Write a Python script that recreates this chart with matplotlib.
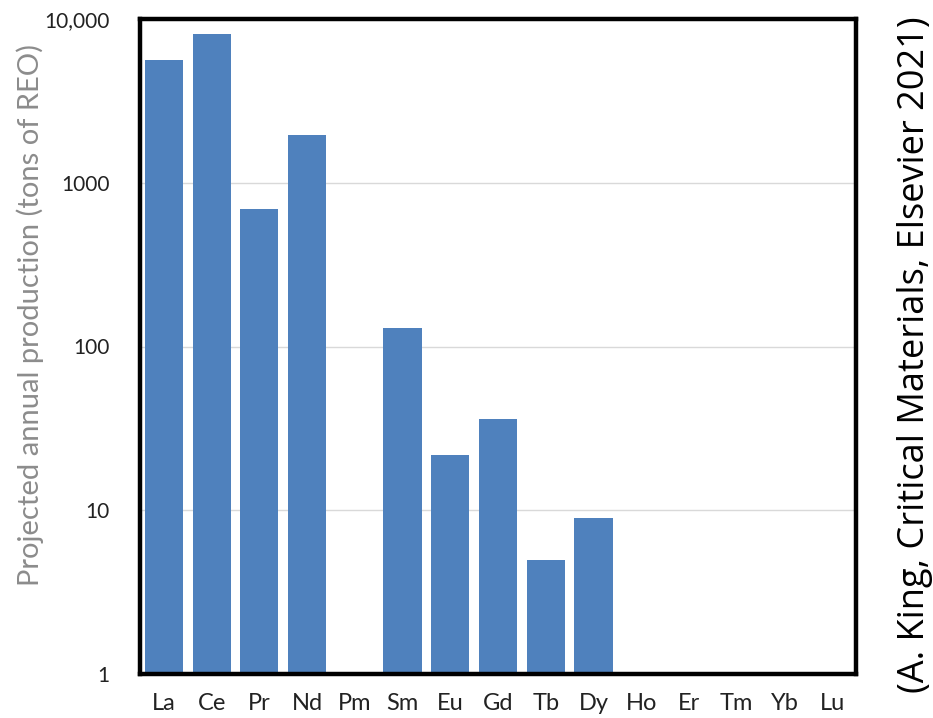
import numpy as np
import matplotlib.pyplot as plt
from matplotlib.ticker import FixedLocator, FixedFormatter, NullLocator

elements = ["La", "Ce", "Pr", "Nd", "Pm", "Sm", "Eu", "Gd", "Tb", "Dy",
            "Ho", "Er", "Tm", "Yb", "Lu"]
production = [5600, 8100, 690, 1970, 0, 130, 21.7, 36, 5.0, 9.0,
              0, 0, 0, 0, 0]
ytick_vals = [1, 10, 100, 1000, 10000]
ytick_text = ["1", "10", "100", "1000", "10,000"]

plt.rcParams['font.family'] = ['Lato', 'DejaVu Sans']

fig = plt.figure(figsize=(9.33, 7.18), dpi=100)
ax = fig.add_axes([140 / 933, 1 - 674 / 718, 716 / 933, 655 / 718])

x = np.arange(len(elements))
vals = np.array(production, dtype=float)
shown = vals > 0
ax.bar(x[shown], vals[shown], width=0.8, color="#4F81BD", zorder=2)

ax.set_yscale("log")
ax.set_ylim(1, 10000)
ax.set_xlim(-0.5, len(elements) - 0.5)
ax.yaxis.set_major_locator(FixedLocator(ytick_vals))
ax.yaxis.set_major_formatter(FixedFormatter(ytick_text))
ax.yaxis.set_minor_locator(NullLocator())
ax.set_xticks(x)
ax.set_xticklabels(elements)
ax.tick_params(axis="both", length=0, colors="#222222")
ax.tick_params(axis="y", pad=22, labelsize=15)
ax.tick_params(axis="x", pad=14, labelsize=17)

ax.grid(axis="y", color="#d9d9d9", linewidth=1, zorder=0)
for s in ax.spines.values():
    s.set_linewidth(3.2)
    s.set_color("black")

fig.text(30 / 933, 1 - 315 / 718, "Projected annual production (tons of REO)",
         rotation=90, ha="center", va="center", fontsize=21, color="#8c8c8c")

fig.text(915 / 933, 1 - 355 / 718, "(A. King, Critical Materials, Elsevier 2021)",
         rotation=90, ha="center", va="center", fontsize=26,
         family=["Open Sans", "DejaVu Sans"], color="black")

fig.savefig("out.png", dpi=100)
